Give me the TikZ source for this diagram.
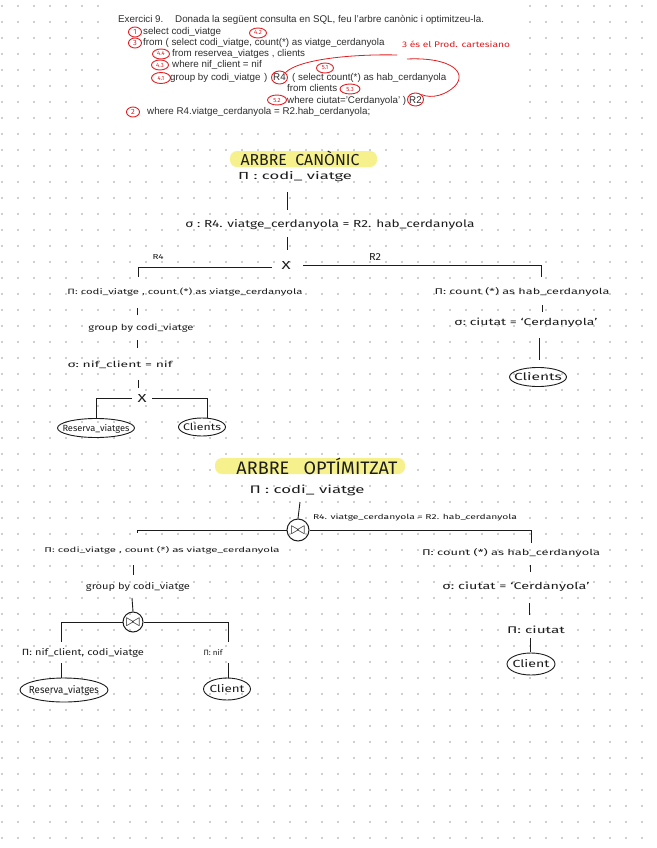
\documentclass[tikz,border=0pt]{standalone}
\usepackage{fontspec}
\setmainfont{Liberation Sans}
\newfontfamily\hand{Fira Sans}
\usetikzlibrary{shapes.geometric,calc}
\definecolor{hl}{RGB}{246,241,140}
\definecolor{rd}{RGB}{226,28,32}
\definecolor{ink}{RGB}{28,28,28}
\newcommand\hw[3]{\resizebox{#1pt}{#2pt}{\hand #3}}
\newcommand\hwt[2]{\resizebox{#1pt}{!}{\hand #2}}
\newcommand\inell[3]{\raisebox{-3pt}[0pt][0pt]{\makebox[0pt]{\hw{#1}{#2}{#3}}}}
\begin{document}
\begin{tikzpicture}[x=1pt,y=-1pt,
  lbl/.style={inner sep=0pt, text=ink, anchor=center},
  edge/.style={draw=ink, line width=0.9pt},
  rel/.style={ellipse, draw=ink, line width=0.9pt, inner sep=0pt, text=ink},
  joinop/.style={circle, draw=ink, line width=1pt, inner sep=0pt, text=ink},
  sq/.style={inner sep=0pt, anchor=base west, text=black!82, font=\fontsize{9.8}{11}\selectfont},
  rc/.style={ellipse, draw=rd, line width=0.9pt, inner sep=0pt, text=rd, font=\hand\fontsize{6}{6}\selectfont},
  rcd/.style={rc, font=\hand\fontsize{7.5}{7.5}\selectfont},
  rline/.style={draw=rd, line width=0.8pt},
  hlbox/.style={fill=hl, rounded corners=7pt},
]
\useasboundingbox (0,0) rectangle (656,848);
\fill[white] (0,0) rectangle (656,848);
\foreach \i in {0,...,40} \foreach \j in {0,...,52} \fill[black!38] ({2+16*\i},{6+16*\j}) circle (0.85);
% pasted statement
\fill[white] (106,0) rectangle (522,123);
\node[sq] (t0) at (118,23) {Exercici 9.};
\node[sq] (t0b) at (175,23) {Donada la següent consulta en SQL, feu l'arbre canònic i optimitzeu-la.};
\node[rcd, minimum width=13pt, minimum height=10pt] (n1) at (135,32) {1};
\node[sq] (t1) at (143,35) {select codi\_viatge};
\node[rcd, minimum width=13pt, minimum height=10pt] (n3) at (135,43) {3};
\node[sq] (t2) at (143,46) {from ( select codi\_viatge, count(*) as viatge\_cerdanyola};
\node[rc, minimum width=17pt, minimum height=10pt] (n44) at (161,54) {4.4};
\node[sq] (t3) at (172,57) {from reservea\_viatges , clients};
\node[rc, minimum width=17pt, minimum height=10pt] (n43) at (160,65) {4.3};
\node[sq] (t4) at (172,68) {where nif\_client = nif};
\node[rc, minimum width=19pt, minimum height=11pt] (n41) at (161,78) {4.1};
\node[sq] (t5) at (170,81) {group by codi\_viatge};
\node[sq] (t5b) at (264,81) {)};
\node[sq] (r4) at (273,81) {R4};
\node[rc, minimum width=16pt, minimum height=13pt] (r4c) at (279.5,77.5) {};
\node[sq] (t5c) at (292,81) {( select count(*) as hab\_cerdanyola};
\node[sq] (t6) at (287,92) {from clients};
\node[rc, minimum width=20pt, minimum height=10pt] (n53) at (350,89) {5.3};
\node[rc, minimum width=19pt, minimum height=10pt] (n52) at (277,100) {5.2};
\node[sq] (t7) at (287,103) {where ciutat='Cerdanyola' )};
\node[sq] (r2) at (409,103) {R2};
\node[rc, minimum width=16pt, minimum height=13pt] (r2c) at (415.5,99.5) {};
\node[rcd, minimum width=13pt, minimum height=10pt] (n2) at (133,112) {2};
\node[sq] (t8) at (147,115) {where R4.viatge\_cerdanyola = R2.hab\_cerdanyola;};
\node[rc, minimum width=17pt, minimum height=10pt] (n42) at (258,33) {4.2};
\node[rc, minimum width=17pt, minimum height=10pt] (n51) at (325,68) {5.1};
\node[inner sep=0pt, text=rd] (cart) at (456,44) {\hw{108}{6.5}{3 és el Prod. cartesiano}};
\draw[rline] (r4c.north east) .. controls (300,58) and (360,54) .. (397,55);
\draw[rline] (407,59) .. controls (450,57) and (468,72) .. (455,86) .. controls (446,95) and (432,99) .. (r2c.north east);

% ===== ARBRE CANONIC =====
\fill[hlbox] (230,151) rectangle (377,167);
\node[lbl] (title1) at (300,158) {\hwt{119}{ARBRE\ \ CANÒNIC}};
\node[lbl] (cpi) at (295,177) {\hw{114}{8}{Π :\ codi\_ viatge}};
\node[lbl] (csig) at (330,225) {\hw{289}{8}{σ :\ R4. viatge\_cerdanyola = R2. hab\_cerdanyola}};
\node[lbl] (cx) at (286,265) {\hw{9}{8}{X}};
\node[lbl] (lr4) at (158,257) {\hw{11}{5}{R4}};
\node[lbl] (lr2) at (375,257) {\hw{12}{7}{R2}};
\node[lbl] (cpiL) at (185,292) {\hw{235}{6.5}{Π:\ codi\_viatge , count (*) as viatge\_cerdanyola}};
\node[lbl] (cgrp) at (141,328) {\hw{105}{6.5}{group by codi\_viatge}};
\node[lbl] (csigL) at (120,365) {\hw{105}{6.5}{σ:\ nif\_client = nif}};
\node[lbl] (cx2) at (142,398) {\hw{9}{8}{X}};
\node[rel, minimum width=77pt, minimum height=19pt] (cres) at (96,428) {\inell{67}{7}{Reserva\_viatges}};
\node[rel, minimum width=47pt, minimum height=18pt] (ccli) at (202,427) {\inell{38}{7.5}{Clients}};
\node[lbl] (cpiR) at (522,292) {\hw{175}{7}{Π:\ count (*) as hab\_cerdanyola}};
\node[lbl] (csigR) at (526,323) {\hw{143}{7.5}{σ:\ ciutat = ‘Cerdanyola’}};
\node[rel, minimum width=57pt, minimum height=19pt] (ccliR) at (538,377) {\inell{48}{8}{Clients}};

\draw[edge] ($(cpi)+(-8,15)$) -- ($(csig)+(-43,-15)$);
\draw[edge] ($(csig)+(-43,12)$) -- ($(cx)+(1,-15)$);
\draw[edge] ($(cx)+(-14,2)$) -| ($(cpiL)+(-47,-15)$);
\draw[edge] ($(cx)+(17,0)$) -| ($(cpiR)+(19,-15)$);
\draw[edge] ($(cpiL)+(-48,16)$) -- ($(cgrp)+(-4,-13)$);
\draw[edge] ($(cgrp)+(-4,12)$) -- ($(csigL)+(17,-17)$);
\draw[edge] ($(csigL)+(18,15)$) -- ($(cx2)+(-4,-10)$);
\draw[edge] ($(cx2)+(-10,0)$) -| (cres.north);
\draw[edge] ($(cx2)+(10,0)$) -| ($(ccli.north)+(5,0)$);
\draw[edge] ($(cpiR)+(20,13)$) -- ($(csigR)+(16,-11)$);
\draw[edge] ($(csigR)+(13,15)$) -- ($(ccliR.north)+(1,-7)$);

% ===== ARBRE OPTIMITZAT =====
\fill[hlbox] (215,458) rectangle (405,474);
\node[lbl] (title2) at (317,466) {\hwt{161}{ARBRE\ \ \ OPTÍMITZAT}};
\node[lbl] (opi) at (307,490) {\hw{115}{8.5}{Π :\ codi\_ viatge}};
\node[joinop, minimum size=22pt] (oj) at (298,530) {\fontsize{17}{17}\selectfont$\bowtie$};
\node[lbl] (ojl) at (415,517) {\hw{204}{5.5}{R4. viatge\_cerdanyola = R2. hab\_cerdanyola}};
\node[lbl] (opiL) at (162,550) {\hw{235}{6}{Π:\ codi\_viatge , count (*) as viatge\_cerdanyola}};
\node[lbl] (ogrp) at (138,587) {\hw{104}{7}{group by codi\_viatge}};
\node[joinop, minimum size=20pt] (oj2) at (133,622) {\fontsize{16}{16}\selectfont$\bowtie$};
\node[lbl] (opiLL) at (83,653) {\hw{122}{7}{Π:\ nif\_client, codi\_viatge}};
\node[lbl] (opiN) at (213,653) {\hw{19}{6}{Π:\ nif}};
\node[rel, minimum width=88pt, minimum height=24pt] (ores) at (64,690) {\inell{70}{8}{Reserva\_viatges}};
\node[rel, minimum width=47pt, minimum height=22pt] (ocli) at (227,689) {\inell{35}{8}{Client}};
\node[lbl] (opiR) at (511,553) {\hw{178}{7}{Π:\ count (*) as hab\_cerdanyola}};
\node[lbl] (osigR) at (516,587) {\hw{147}{7.5}{σ:\ ciutat = ‘Cerdanyola’}};
\node[lbl] (opiC) at (536,630) {\hw{58}{7.5}{Π:\ ciutat}};
\node[rel, minimum width=48pt, minimum height=22pt] (ocliR) at (531,664) {\inell{37}{8}{Client}};

\draw[edge] ($(opi)+(-7,12)$) -- (oj.north);
\draw[edge] (oj.west) -| ($(opiL)+(-25,-17)$);
\draw[edge] (oj.east) -| ($(opiR)+(20,-10)$);
\draw[edge] ($(opiL)+(-29,15)$) -- ($(ogrp)+(-5,-12)$);
\draw[edge] ($(ogrp)+(-6,11)$) -- (oj2.north);
\draw[edge] (oj2.west) -| ($(opiLL)+(-22,-11)$);
\draw[edge] (oj2.east) -| ($(opiN)+(15,-11)$);
\draw[edge] ($(opiLL)+(-22,10)$) -- ($(ores.north)+(-3,0)$);
\draw[edge] ($(opiN)+(15,10)$) -- ($(ocli.north)+(1,0)$);
\draw[edge] ($(opiR)+(19,12)$) -- ($(osigR)+(14,-15)$);
\draw[edge] ($(osigR)+(13,16)$) -- ($(opiC)+(-7,-15)$);
\draw[edge] ($(opiC)+(-6,8)$) -- ($(ocliR.north)+(-1,-1)$);
\end{tikzpicture}
\end{document}
